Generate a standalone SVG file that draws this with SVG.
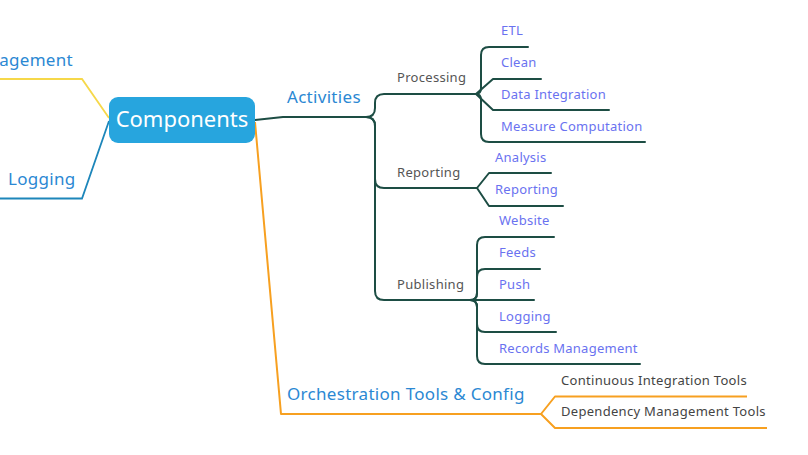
<svg xmlns="http://www.w3.org/2000/svg" width="808" height="455" viewBox="0 0 808 455">
<style>
text{font-family:"Noto Sans","Open Sans","DejaVu Sans",sans-serif}
.main{font-size:17px;fill:#2b88d3;letter-spacing:0.3px}
.sub{font-size:13px;fill:#555;letter-spacing:0.3px}
.leaf{font-size:13px;fill:#6a72f0;letter-spacing:0.25px}
.orc{font-size:13px;fill:#444;letter-spacing:0.3px}
.t{fill:none;stroke:#1d4d44;stroke-width:2;stroke-linejoin:round;stroke-linecap:round}
.o{fill:none;stroke:#f7a020;stroke-width:2;stroke-linejoin:round}
.y{fill:none;stroke:#f6d84a;stroke-width:1.8}
.b{fill:none;stroke:#1d86ba;stroke-width:1.8}
</style>
<rect width="808" height="455" fill="#fff"/>
<g id="connectors">
<path class="y" d="M0,79 L82,79 L109,118"/>
<path class="b" d="M0,198.5 L82,198.5 L109,121"/>
<path class="t" d="M255,120 L283,117 L366,117"/>
<path class="t" d="M366,117 Q375,117 375,108 L375,103 Q375,94 384,94 L476,94"/>
<path class="t" d="M366,117 Q375,117 375,126 L375,179 Q375,188 384,188 L477,188"/>
<path class="t" d="M366,117 Q375,117 375,126 L375,291 Q375,300 384,300 L470,300"/>
<path class="t" d="M476,94 Q481,94 481,88 L481,55 Q481,47 489,47 L528,47"/>
<path class="t" d="M476,94 L493,79 L541,79"/>
<path class="t" d="M476,94 L493,110 L609,110"/>
<path class="t" d="M476,94 Q481,94 481,100 L481,134 Q481,142 489,142 L645,142"/>
<path class="t" d="M477,188 L489,173 L551,173"/>
<path class="t" d="M477,188 L489,206 L563,206"/>
<path class="t" d="M470,300 Q477,300 477,293 L477,245 Q477,237 485,237 L554,237"/>
<path class="t" d="M470,300 Q477,300 477,293 L477,277 Q477,269 485,269 L540,269"/>
<path class="t" d="M470,300 L534,300"/>
<path class="t" d="M470,300 Q477,300 477,307 L477,324 Q477,332 485,332 L556,332"/>
<path class="t" d="M470,300 Q477,300 477,307 L477,356 Q477,364 485,364 L640,364"/>
<path class="o" d="M255,122 L281,414 L541,414"/>
<path class="o" d="M541,414 L555,396.5 L747,396.5"/>
<path class="o" d="M541,414 L555,428 L767,428"/>
</g>
<g id="components">
<rect x="109" y="97" width="146" height="46" rx="9" fill="#27a5de"/>
<text x="182" y="127" text-anchor="middle" font-size="22" fill="#fff">Components</text>
</g>
<g id="left-management"><text class="main" x="73" y="66" text-anchor="end">agement</text></g>
<g id="left-logging"><text class="main" x="8" y="185">Logging</text></g>
<g id="activities"><text class="main" x="287" y="103">Activities</text></g>
<g id="processing"><text class="sub" x="397" y="82">Processing</text></g>
<g id="reporting"><text class="sub" x="397" y="177">Reporting</text></g>
<g id="publishing"><text class="sub" x="397" y="289">Publishing</text></g>
<g id="etl"><text class="leaf" x="501" y="35">ETL</text></g>
<g id="clean"><text class="leaf" x="501" y="67">Clean</text></g>
<g id="data-integration"><text class="leaf" x="501" y="99">Data Integration</text></g>
<g id="measure"><text class="leaf" x="501" y="131">Measure Computation</text></g>
<g id="analysis"><text class="leaf" x="495" y="162">Analysis</text></g>
<g id="reporting-leaf"><text class="leaf" x="495" y="194">Reporting</text></g>
<g id="website"><text class="leaf" x="499" y="225">Website</text></g>
<g id="feeds"><text class="leaf" x="499" y="257">Feeds</text></g>
<g id="push"><text class="leaf" x="499" y="289">Push</text></g>
<g id="logging-leaf"><text class="leaf" x="499" y="321">Logging</text></g>
<g id="records"><text class="leaf" x="499" y="353">Records Management</text></g>
<g id="orchestration"><text class="main" x="287" y="400">Orchestration Tools &amp; Config</text></g>
<g id="ci-tools"><text class="orc" x="561" y="385">Continuous Integration Tools</text></g>
<g id="dep-tools"><text class="orc" x="561" y="416">Dependency Management Tools</text></g>
</svg>
